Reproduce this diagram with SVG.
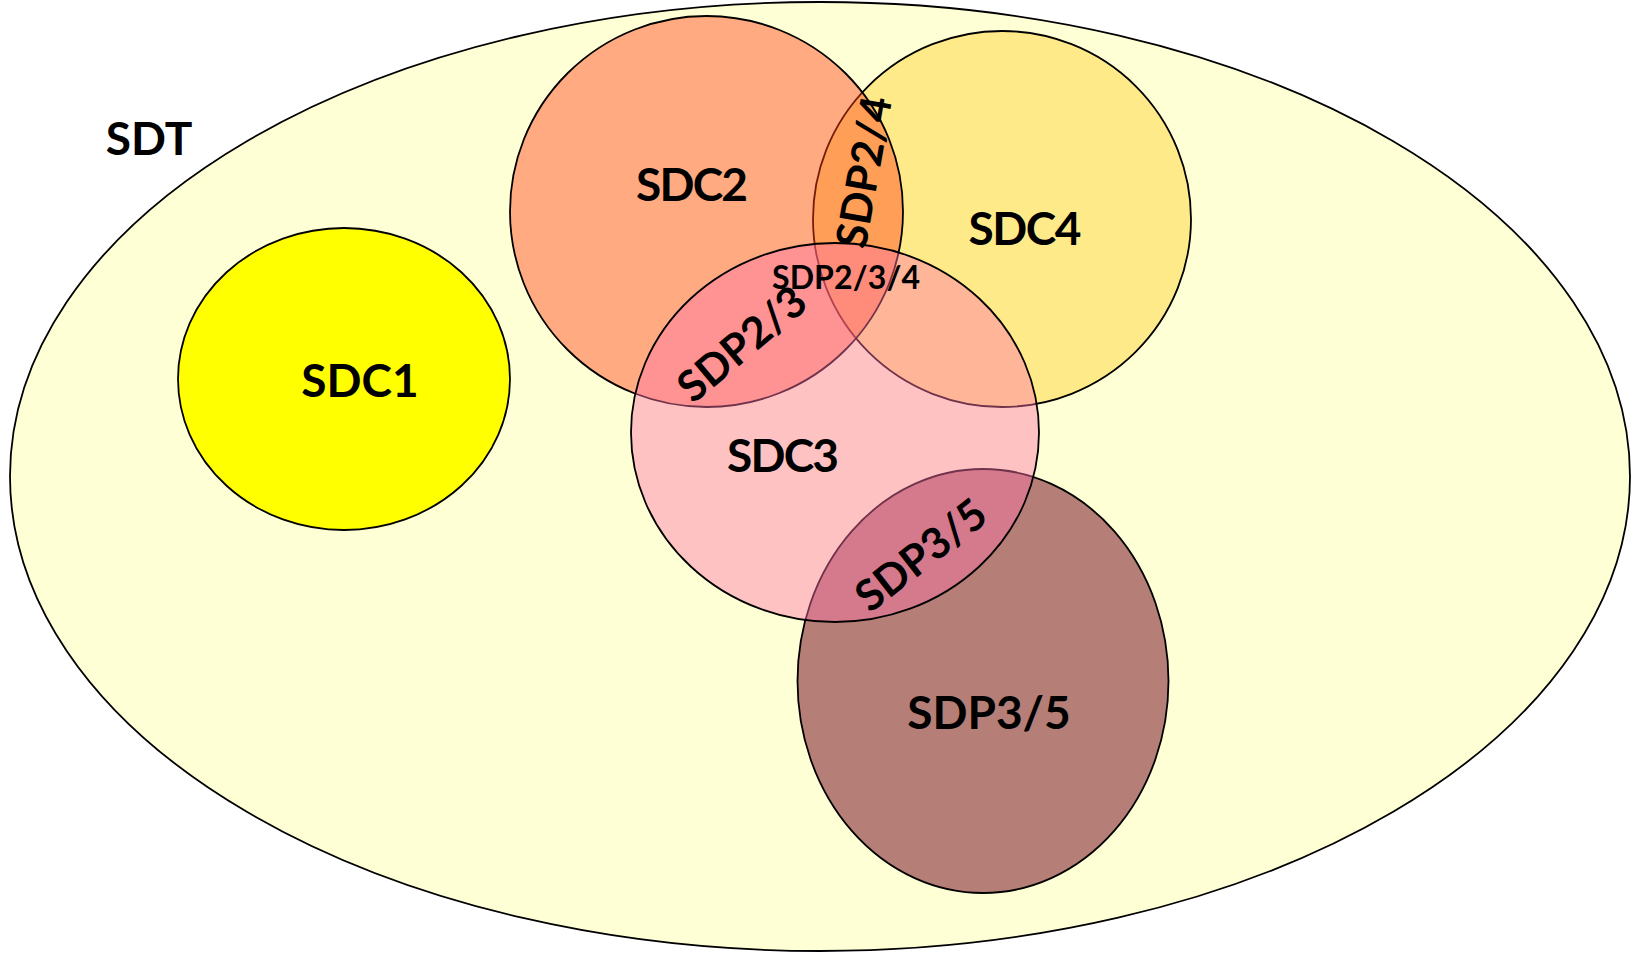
<svg xmlns="http://www.w3.org/2000/svg" width="1636" height="953" viewBox="0 0 1636 953">
<style>
.shape{stroke:#000;stroke-width:1.8}
.lbl{font-family:Lato,"Liberation Sans",sans-serif;font-weight:700;fill:#000;text-anchor:middle}
.big{font-size:46px}
.mid{font-size:43px}
.small{font-size:32px}
</style>
<rect width="1636" height="953" fill="#fff"/>
<g id="SDT">
<ellipse class="shape" cx="820" cy="476.5" rx="810" ry="474.5" fill="#FFFFD5" stroke-width="2.4"/>
<text class="lbl big" x="149" y="155">SDT</text>
</g>
<g id="SDC1">
<ellipse class="shape" cx="344" cy="379" rx="166" ry="151" fill="#FFFF00"/>
<text class="lbl big" x="360" y="397">SDC1</text>
</g>
<g id="SDC5">
<ellipse class="shape" cx="983" cy="681" rx="185.5" ry="212" fill="#B57E76"/>
</g>
<g id="SDC4">
<ellipse class="shape" cx="1002" cy="219" rx="189" ry="188" fill="#FFEA8A"/>
</g>
<g id="SDC2">
<ellipse class="shape" cx="706.5" cy="211.5" rx="196.5" ry="195.5" fill="rgb(255,66,24)" fill-opacity="0.45"/>
</g>
<g id="SDC3">
<ellipse class="shape" cx="835" cy="432.5" rx="204" ry="189.5" fill="rgb(255,116,170)" fill-opacity="0.44"/>
</g>
<g id="labels">
<text class="lbl big" x="692" y="201" textLength="112">SDC2</text>
<text class="lbl big" x="1025" y="245" textLength="113">SDC4</text>
<text class="lbl big" x="783" y="472" textLength="112">SDC3</text>
<text class="lbl big" x="989" y="729">SDP3/5</text>
<text class="lbl mid" transform="translate(864,172) rotate(-80)" x="0" y="15">SDP2/4</text>
<text class="lbl small" x="846" y="289" textLength="148">SDP2/3/4</text>
<text class="lbl mid" transform="translate(742,344) rotate(-40)" x="0" y="15">SDP2/3</text>
<text class="lbl mid" transform="translate(921,555) rotate(-38)" x="0" y="15">SDP3/5</text>
</g>
<g id="connectors"></g>
</svg>
